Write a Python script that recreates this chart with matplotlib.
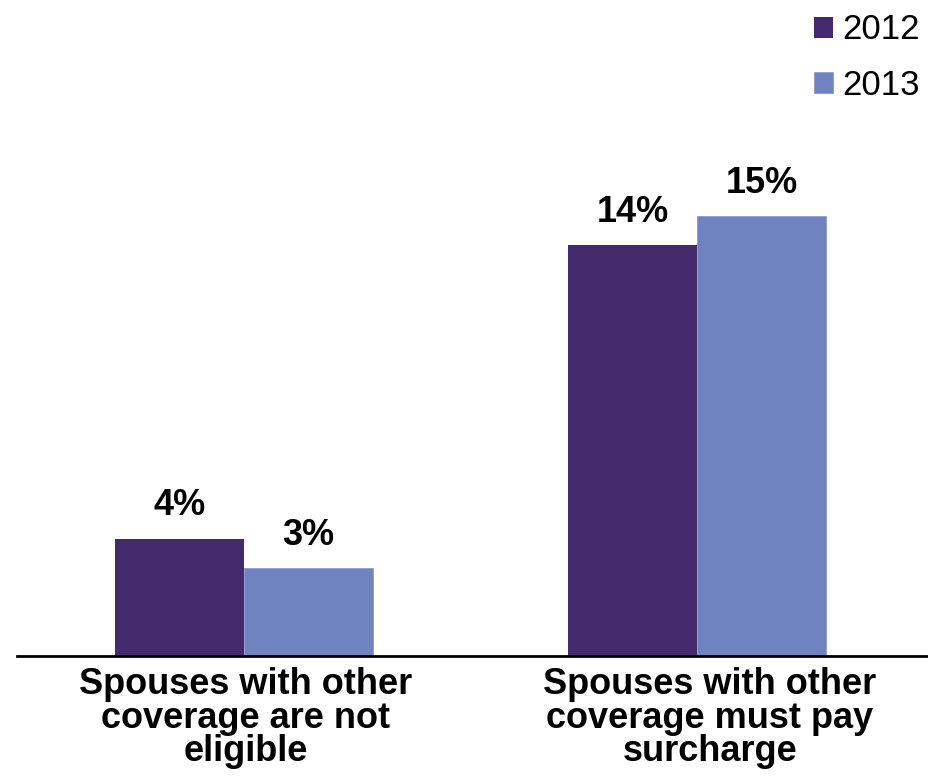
import matplotlib.pyplot as plt
import numpy as np

plt.rcParams['font.family'] = ['Liberation Sans', 'DejaVu Sans']

# survey results, share of employers (%)
categories = ["Spouses with other\ncoverage are not\neligible",
              "Spouses with other\ncoverage must pay\nsurcharge"]
years = ["2012", "2013"]
values_2012 = [4, 14]
values_2013 = [3, 15]

colors = ["#442A6C", "#6F83C0"]

fig = plt.figure(figsize=(9.29, 7.76), dpi=100)
ax = fig.add_axes([0.0183, 0.1546, 0.9817, 0.756])

x = np.arange(len(categories))
w = 0.285

b1 = ax.bar(x - w / 2, values_2012, w, color=colors[0], label=years[0])
b2 = ax.bar(x + w / 2, values_2013, w, color=colors[1], label=years[1],
            edgecolor="#8C9CCF", linewidth=0.6)

for bars, vals in [(b1, values_2012), (b2, values_2013)]:
    for rect, v in zip(bars, vals):
        ax.annotate(f"{v}%", (rect.get_x() + rect.get_width() / 2, v),
                    xytext=(0, 11), textcoords="offset points",
                    ha="center", va="bottom", fontsize=26, fontweight="bold")

ax.set_xlim(-0.501, 1.512)
ax.set_ylim(0, 20)
# labels sit a touch right of the group centres
ax.set_xticks(x + np.array([0.004, 0.028]))
ax.set_xticklabels(categories, fontsize=26, fontweight="bold", linespacing=0.94)
ax.tick_params(axis="x", length=0, pad=8)
ax.set_yticks([])
for s in ["top", "right", "left"]:
    ax.spines[s].set_visible(False)
ax.spines["bottom"].set_linewidth(2)

fig.legend(loc="upper right", bbox_to_anchor=(1.016, 1.014), frameon=False,
           fontsize=25, handlelength=0.55, handleheight=0.55,
           handletextpad=0.25, labelspacing=0.65, borderaxespad=0.3)

fig.savefig("out.png", dpi=100)
